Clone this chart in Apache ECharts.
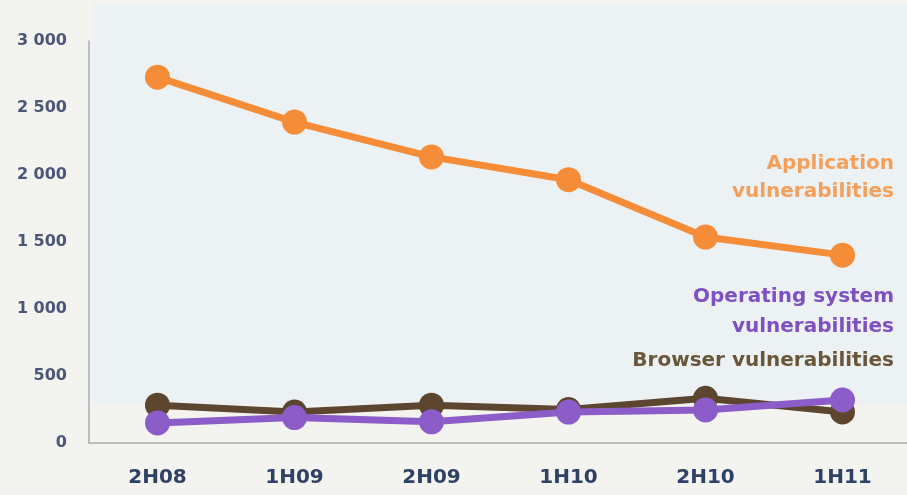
<!DOCTYPE html>
<html>
<head>
<meta charset="utf-8">
<script src="https://cdn.jsdelivr.net/npm/echarts@6/dist/echarts.min.js"></script>
<style>
  html, body { margin: 0; padding: 0; background: #f3f3ef; }
  #chart { width: 907px; height: 495px; }
</style>
</head>
<body>
<div id="chart"></div>
<script>
// Half-year periods
const periods = ['2H08', '1H09', '2H09', '1H10', '2H10', '1H11'];

// Vulnerabilities disclosed per period
const applicationVulns = [2730, 2395, 2135, 1965, 1537, 1402];
const browserVulns     = [282, 231, 282, 250, 334, 232];
const osVulns          = [150, 190, 158, 231, 246, 321];

// Value axis ticks
const yTicks = [0, 500, 1000, 1500, 2000, 2500, 3000];

const ORANGE = '#f58c38';
const PURPLE = '#8c5cc8';
const BROWN  = '#5c4630';

const FONT = '"DejaVu Sans", Verdana, sans-serif';

function lineSeries(name, data, color, z) {
  return {
    name: name,
    type: 'line',
    data: data,
    z: z,
    symbol: 'circle',
    symbolSize: 25,
    showSymbol: true,
    lineStyle: { color: color, width: 7 },
    itemStyle: { color: color },
    emphasis: { disabled: true },
    animation: false
  };
}

function note(text, y, color) {
  return {
    type: 'text', x: 894, y: y,
    style: { text: text, align: 'right', verticalAlign: 'middle', fill: color, font: 'bold 20px ' + FONT }
  };
}

const chart = echarts.init(document.getElementById('chart'), null, { renderer: 'canvas' });

chart.setOption({
  backgroundColor: '#f3f3ef',
  animation: false,
  grid: {
    left: 89, right: -4, top: 41, bottom: 52,
    containLabel: false,
    outerBoundsMode: 'none'
  },
  graphic: [
    {
      type: 'rect',
      silent: true,
      z: -10,
      shape: { x: 92, y: 4, width: 815, height: 401 },
      style: { fill: '#ecf1f4' }
    },
    {
      type: 'group',
      silent: true,
      z: 100,
      children: [
        note('Application', 164, '#f4a05a'),
        note('vulnerabilities', 192, '#f4a05a'),
        note('Operating system', 297, '#7e50c2'),
        note('vulnerabilities', 327, '#7e50c2'),
        note('Browser vulnerabilities', 361, '#6a573a')
      ]
    }
  ],
  xAxis: {
    type: 'category',
    data: periods,
    boundaryGap: true,
    axisLine: { show: true, lineStyle: { color: '#a9adb3', width: 1.5 } },
    axisTick: { show: false },
    axisLabel: {
      margin: 25,
      color: '#2f4165',
      fontSize: 20,
      fontWeight: 'bold',
      fontFamily: FONT
    },
    splitLine: { show: false }
  },
  yAxis: {
    type: 'value',
    min: yTicks[0],
    max: yTicks[yTicks.length - 1],
    interval: yTicks[1] - yTicks[0],
    axisLine: { show: true, lineStyle: { color: '#a9adb3', width: 1.5 } },
    axisTick: { show: false },
    splitLine: { show: false },
    axisLabel: {
      margin: 22,
      color: '#4b5678',
      fontSize: 16,
      fontWeight: 'bold',
      fontFamily: FONT,
      formatter: function (v) {
        return v >= 1000 ? Math.floor(v / 1000) + ' ' + String(v % 1000).padStart(3, '0') : String(v);
      }
    }
  },
  series: [
    lineSeries('Application vulnerabilities', applicationVulns, ORANGE, 3),
    lineSeries('Browser vulnerabilities', browserVulns, BROWN, 4),
    lineSeries('Operating system vulnerabilities', osVulns, PURPLE, 5)
  ]
});
</script>
</body>
</html>
